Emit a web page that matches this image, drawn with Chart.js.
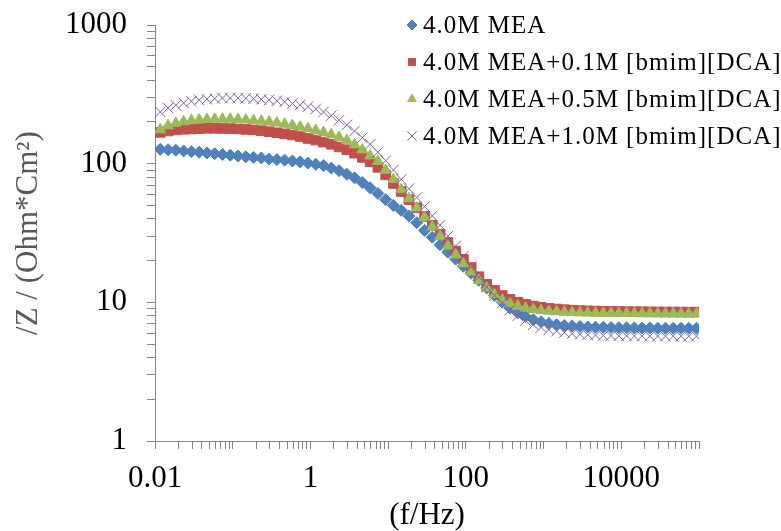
<!DOCTYPE html>
<html>
<head>
<meta charset="utf-8">
<script src="https://cdn.jsdelivr.net/npm/chart.js@4.4.0/dist/chart.umd.min.js"></script>
<style>
    html, body { margin: 0; padding: 0; background: #fff; }
    #wrap { width: 781px; height: 531px; }
</style>
</head>
<body>
<div id="wrap"><canvas id="impedanceChart"></canvas></div>
<script>
const freqHz = [
    0.0117, 0.01473, 0.01854, 0.02334, 0.02939, 0.0370, 0.04658, 0.05864, 0.07382, 0.09294,
    0.117, 0.1473, 0.1854, 0.2334, 0.2939, 0.370, 0.4658, 0.5864, 0.7382, 0.9294,
    1.17, 1.473, 1.854, 2.334, 2.939, 3.70, 4.658, 5.864, 7.382, 9.294,
    11.7, 14.73, 18.54, 23.34, 29.39, 37.0, 46.58, 58.64, 73.82, 92.94,
    117, 147.3, 185.4, 233.4, 293.9, 370, 465.8, 586.4, 738.2, 929.4,
    1170, 1473, 1854, 2334, 2939, 3700, 4658, 5864, 7382, 9294,
    11700, 14730, 18540, 23340, 29390, 37000, 46580, 58640, 73820, 92940
];

const mea40 = [
    127, 126, 125, 123.5, 122, 121, 119.5, 118, 116.5, 115,
    113.5, 112, 111, 110, 108, 107, 106, 104.5, 103, 101,
    99, 97, 93, 89, 84, 79, 73, 67, 61, 55,
    50, 46, 42, 37.5, 33, 29.5, 26, 23, 20.5, 18.2,
    16.2, 14.4, 12.7, 11.2, 10.0, 9.1, 8.4, 7.9, 7.5, 7.25,
    7.05, 6.9, 6.8, 6.75, 6.7, 6.65, 6.62, 6.6, 6.58, 6.56,
    6.55, 6.54, 6.53, 6.52, 6.51, 6.5, 6.5, 6.5, 6.5, 6.5
];

const mea40Il01 = [
    168, 172, 175, 177, 178, 179, 180, 180, 179.5, 179,
    178, 176.5, 175, 173, 170, 167, 164, 161, 157, 152,
    148, 143, 138, 132, 126, 119, 111, 103, 94, 83,
    72, 63, 55, 48, 41.7, 36, 31, 27, 23.4, 20.4,
    17.8, 15.3, 13.5, 12.2, 11.2, 10.5, 10.0, 9.65, 9.4, 9.2,
    9.05, 8.95, 8.85, 8.78, 8.72, 8.68, 8.65, 8.62, 8.6, 8.58,
    8.57, 8.56, 8.55, 8.54, 8.53, 8.52, 8.52, 8.51, 8.5, 8.5
];

const mea40Il05 = [
    176, 188, 196, 201, 205, 207, 209, 210, 210, 210,
    209, 207, 205, 203, 200, 197, 193, 189, 184, 179,
    174, 168, 162, 155, 147, 137, 126, 114, 104, 90,
    77, 65, 56, 48, 41, 35, 30, 25.5, 22, 19,
    16.6, 14.4, 12.7, 11.4, 10.4, 9.8, 9.4, 9.1, 8.9, 8.75,
    8.65, 8.57, 8.5, 8.45, 8.42, 8.4, 8.38, 8.36, 8.35, 8.34,
    8.33, 8.32, 8.31, 8.3, 8.3, 8.3, 8.3, 8.3, 8.3, 8.3
];

const mea40Il10 = [
    236, 252, 264, 274, 282, 288, 292, 295, 297, 297,
    297, 296, 294, 291, 288, 284, 279, 272, 265, 258,
    248, 236, 222, 206, 190, 172, 154, 138, 121, 105,
    90, 77, 66, 57, 49, 42, 36, 30, 25.5, 21.5,
    18, 15.2, 12.9, 11.2, 9.9, 8.8, 8.0, 7.4, 6.9, 6.6,
    6.35, 6.2, 6.05, 5.95, 5.88, 5.83, 5.8, 5.77, 5.75, 5.74,
    5.73, 5.72, 5.71, 5.7, 5.7, 5.7, 5.7, 5.7, 5.7, 5.7
];

const seriesNames = [
    "4.0M MEA",
    "4.0M MEA+0.1M [bmim][DCA]",
    "4.0M MEA+0.5M [bmim][DCA]",
    "4.0M MEA+1.0M [bmim][DCA]"
];

const xTickLabels = ["0.01", "1", "100", "10000"];
const yTickLabels = ["1", "10", "100", "1000"];

const xMin = 0.01, xMax = 100000;
const yMin = 1, yMax = 1000;

const serif = "'Liberation Serif', 'Times New Roman', serif";
const axisGrey = "#868686";

function toPoints(values) {
    return values.map((v, i) => ({ x: freqHz[i], y: v }));
}

// log ticks: a tick at every 1..9 x 10^n, labels only on the listed values
function logTicks(min, max, labels) {
    const ticks = [];
    for (let e = Math.round(Math.log10(min)); e <= Math.round(Math.log10(max)); e++) {
        for (let k = 1; k <= 9; k++) {
            const v = parseFloat((k * Math.pow(10, e)).toPrecision(6));
            if (v < min || v > max) continue;
            ticks.push({ value: v, label: labels.includes(String(v)) ? String(v) : "" });
        }
    }
    return ticks;
}

const cornerLegend = {
    id: "cornerLegend",
    afterDraw(chart) {
        const ctx = chart.ctx;
        ctx.save();
        ctx.font = "25px " + serif;
        ctx.textBaseline = "middle";
        ctx.textAlign = "left";
        if ("letterSpacing" in ctx) ctx.letterSpacing = "1px";
        chart.data.datasets.forEach((ds, i) => {
            const y = 25 + i * 37;
            ctx.fillStyle = ds.backgroundColor;
            ctx.strokeStyle = ds.borderColor;
            ctx.lineWidth = 1;
            Chart.helpers.drawPoint(ctx, {
                pointStyle: ds.pointStyle,
                radius: ds.pointStyle === "crossRot" ? 6.5 : 5,
                rotation: 0,
                borderWidth: 1
            }, 412, y);
            ctx.fillStyle = "#000";
            ctx.fillText(seriesNames[i], 423, y + 1);
        });
        ctx.restore();
    }
};

const styles = [
    { color: "#4F81BD", pointStyle: "rectRot", radius: 6, order: 3 },
    { color: "#C0504D", pointStyle: "rect", radius: 6.8, order: 2 },
    { color: "#9BBB59", pointStyle: "triangle", radius: 6.3, order: 1 },
    { color: "#8064A2", pointStyle: "crossRot", radius: 7.5, order: 0 }
];

const seriesValues = [mea40, mea40Il01, mea40Il05, mea40Il10];

const ctx = document.getElementById("impedanceChart").getContext("2d");

new Chart(ctx, {
    type: "scatter",
    data: {
        datasets: seriesValues.map((vals, i) => ({
            label: seriesNames[i],
            data: toPoints(vals),
            showLine: false,
            pointStyle: styles[i].pointStyle,
            pointRadius: styles[i].radius,
            pointHoverRadius: styles[i].radius,
            pointBorderWidth: 1,
            backgroundColor: styles[i].color,
            borderColor: styles[i].color,
            order: styles[i].order
        }))
    },
    options: {
        responsive: true,
        maintainAspectRatio: false,
        animation: false,
        layout: { padding: { top: 25, right: 82, bottom: 0, left: 0 } },
        plugins: {
            legend: { display: false },
            tooltip: { enabled: false }
        },
        scales: {
            x: {
                type: "logarithmic",
                min: xMin,
                max: xMax,
                afterBuildTicks: (scale) => { scale.ticks = logTicks(xMin, xMax, xTickLabels); },
                afterFit: (scale) => {
                    scale.height = 90;
                    scale.paddingLeft = 0;
                    scale.paddingRight = 0;
                },
                ticks: {
                    autoSkip: false,
                    maxRotation: 0,
                    padding: 11,
                    color: "#000",
                    font: { family: serif, size: 31 },
                    callback: function (value, index, ticks) { return ticks[index].label; }
                },
                grid: { display: true, drawOnChartArea: false, drawTicks: true, tickLength: 8, color: axisGrey },
                border: { display: true, color: axisGrey, width: 1 },
                title: {
                    display: true,
                    text: "(f/Hz)",
                    color: "#000",
                    font: { family: serif, size: 31, lineHeight: 1 },
                    padding: { top: 0, bottom: 0 }
                }
            },
            y: {
                type: "logarithmic",
                min: yMin,
                max: yMax,
                afterBuildTicks: (scale) => { scale.ticks = logTicks(yMin, yMax, yTickLabels); },
                afterFit: (scale) => {
                    scale.width = 155;
                    scale.paddingTop = 0;
                    scale.paddingBottom = 0;
                },
                ticks: {
                    autoSkip: false,
                    padding: 20,
                    color: "#000",
                    font: { family: serif, size: 31 },
                    callback: function (value, index, ticks) { return ticks[index].label; }
                },
                grid: { display: true, drawOnChartArea: false, drawTicks: true, tickLength: 8, color: axisGrey },
                border: { display: true, color: axisGrey, width: 1 },
                title: {
                    display: true,
                    text: "/Z / (Ohm*Cm²)",
                    color: "#595959",
                    font: { family: serif, size: 31, lineHeight: 1.2 },
                    padding: { top: 10, bottom: 0 }
                }
            }
        }
    },
    plugins: [cornerLegend]
});
</script>
</body>
</html>
